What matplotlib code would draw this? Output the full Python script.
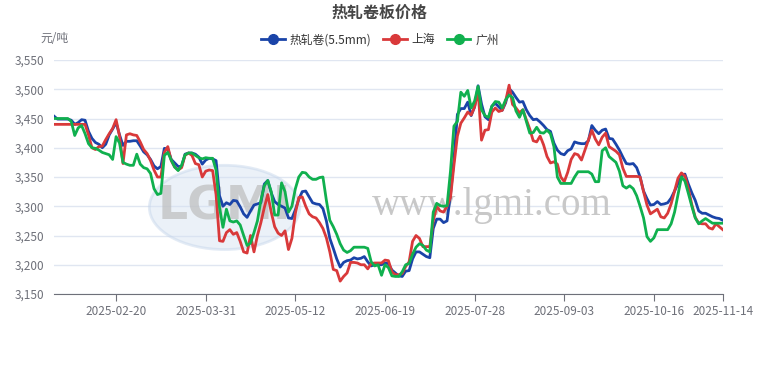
import numpy as np
import matplotlib.pyplot as plt
from matplotlib.lines import Line2D
from matplotlib.patches import Ellipse
from matplotlib.ticker import FuncFormatter

plt.rcParams['font.family'] = ['Noto Sans CJK SC', 'DejaVu Sans']

# 数据 (元/吨), 按交易日顺序
rezhajuan = [
    3454, 3449, 3449, 3449, 3449, 3447, 3440, 3443, 3448, 3447,
    3428, 3416, 3409, 3406, 3400, 3406, 3422, 3432, 3443, 3422,
    3404, 3411, 3411, 3412, 3412, 3403, 3393, 3388, 3380, 3369,
    3364, 3368, 3399, 3398, 3380, 3374, 3368, 3368, 3389, 3391,
    3391, 3389, 3384, 3372, 3379, 3382, 3381, 3378, 3318, 3300,
    3306, 3303, 3310, 3309, 3299, 3287, 3281, 3292, 3302, 3304,
    3306, 3338, 3344, 3323, 3308, 3303, 3300, 3297, 3280, 3279,
    3294, 3312, 3325, 3326, 3316, 3306, 3304, 3303, 3296, 3275,
    3245, 3228, 3210, 3196, 3204, 3207, 3208, 3212, 3210, 3211,
    3214, 3205, 3198, 3200, 3200, 3200, 3203, 3202, 3191, 3186,
    3181, 3180, 3189, 3190, 3210, 3222, 3222, 3218, 3214, 3212,
    3262, 3278, 3278, 3272, 3275, 3320, 3380, 3457, 3467, 3467,
    3478, 3455, 3470, 3506, 3475, 3453, 3448, 3471, 3476, 3470,
    3464, 3477, 3501, 3495, 3486, 3478, 3479, 3465, 3455, 3448,
    3449, 3444, 3438, 3431, 3428, 3408, 3396, 3390, 3388, 3395,
    3398, 3410, 3408, 3407, 3407, 3412, 3438, 3430, 3424, 3430,
    3432, 3416, 3415, 3406, 3396, 3384, 3373, 3372, 3373, 3366,
    3350, 3326, 3313, 3302, 3303, 3308, 3303, 3304, 3306, 3314,
    3326, 3339, 3351, 3355, 3338, 3323, 3310, 3292, 3288, 3288,
    3285, 3282, 3280, 3279, 3276,
]

shanghai = [
    3440, 3440, 3440, 3440, 3440, 3440, 3440, 3440, 3440, 3440,
    3422, 3400, 3397, 3402, 3403, 3414, 3424, 3433, 3448, 3420,
    3373, 3422, 3424, 3422, 3421, 3410, 3397, 3390, 3378, 3362,
    3350, 3350, 3392, 3402, 3378, 3367, 3362, 3366, 3387, 3391,
    3387, 3373, 3371, 3350, 3360, 3362, 3361, 3320, 3241, 3240,
    3255, 3260, 3252, 3255, 3240, 3222, 3220, 3250, 3222, 3250,
    3272, 3298, 3320, 3290, 3265, 3254, 3250, 3258, 3226, 3245,
    3288, 3315, 3316, 3300, 3287, 3282, 3280, 3272, 3262, 3246,
    3222, 3192, 3190, 3172, 3180, 3186, 3204, 3204, 3203, 3200,
    3200, 3193, 3202, 3203, 3203, 3203, 3208, 3207, 3188, 3183,
    3183, 3185, 3197, 3205, 3240, 3250, 3245, 3231, 3231, 3231,
    3275, 3300, 3292, 3290, 3300, 3315, 3370, 3420, 3442, 3451,
    3461, 3456, 3470, 3498, 3413, 3430, 3431, 3461, 3468, 3462,
    3464, 3480, 3507, 3474, 3468, 3460, 3465, 3448, 3432, 3412,
    3410, 3420, 3405, 3385, 3374, 3376, 3372, 3350, 3342, 3358,
    3380, 3390, 3388, 3379, 3396, 3413, 3430, 3415, 3405, 3418,
    3425, 3402, 3398, 3394, 3388, 3365, 3351, 3351, 3351, 3351,
    3350, 3325, 3302, 3287, 3291, 3295, 3282, 3280, 3288, 3304,
    3326, 3348, 3357, 3352, 3330, 3303, 3281, 3271, 3270, 3270,
    3263, 3261, 3270, 3265, 3260,
]

guangzhou = [
    3450, 3450, 3450, 3450, 3450, 3445, 3421, 3434, 3438, 3424,
    3407, 3400, 3399, 3396, 3392, 3390, 3388, 3380, 3419, 3408,
    3375, 3372, 3370, 3370, 3389, 3372, 3366, 3364, 3356, 3330,
    3320, 3322, 3387, 3392, 3379, 3367, 3361, 3370, 3388, 3391,
    3391, 3387, 3383, 3381, 3383, 3382, 3382, 3362, 3298, 3264,
    3295, 3275, 3273, 3275, 3268, 3250, 3233, 3237, 3255, 3275,
    3310, 3335, 3344, 3325, 3285, 3285, 3340, 3325, 3290, 3300,
    3330, 3350, 3358, 3357, 3350, 3346, 3346, 3349, 3350, 3310,
    3276, 3265, 3252, 3236, 3225, 3221, 3224, 3230, 3230, 3230,
    3230, 3228, 3205, 3198, 3200, 3182, 3200, 3195, 3181, 3180,
    3180, 3188, 3200, 3202, 3218, 3230, 3236, 3233, 3225, 3222,
    3290, 3305, 3301, 3300, 3301, 3360, 3437, 3445, 3495, 3488,
    3498, 3468, 3480, 3505, 3465, 3455, 3452, 3471, 3479, 3478,
    3468, 3482, 3490, 3486, 3463, 3452, 3465, 3445, 3425, 3426,
    3435, 3426, 3425, 3430, 3424, 3402, 3350, 3339, 3339, 3339,
    3339, 3350, 3359, 3359, 3359, 3359, 3355, 3342, 3342, 3395,
    3400, 3385, 3380, 3375, 3360, 3335, 3331, 3335, 3330, 3318,
    3300, 3280, 3248, 3240, 3246, 3260, 3260, 3260, 3260, 3270,
    3290, 3320, 3350, 3343, 3322, 3300, 3280, 3270, 3275, 3279,
    3275, 3271, 3271, 3271, 3271,
]

tick_idx = [18, 44, 70, 96, 122, 148, 174, 194]
tick_labels = ['2025-02-20', '2025-03-31', '2025-05-12', '2025-06-19',
               '2025-07-28', '2025-09-03', '2025-10-16', '2025-11-14']

series_names = ['热轧卷(5.5mm)', '上海', '广州']
colors = ['#1a44a8', '#d9393a', '#10b04e']

fig = plt.figure(figsize=(7.6, 3.7), dpi=100)
ax = fig.add_axes([0.0711, 0.2054, 0.88, 0.6324])

x = np.arange(len(rezhajuan))
for vals, c in zip([rezhajuan, shanghai, guangzhou], colors):
    ax.plot(x, vals, color=c, lw=2, solid_joinstyle='round', zorder=3)

# 水印
ax.add_patch(Ellipse((0.255, 0.37), 0.225, 0.36, transform=ax.transAxes,
                     facecolor='#d3e0f1', edgecolor='#c3d4ea', lw=2, alpha=0.45, zorder=1))
ax.text(0.255, 0.37, 'LGMI', transform=ax.transAxes, ha='center', va='center',
        fontsize=34, fontweight='bold', color='#bdbdbd', alpha=0.7,
        family='DejaVu Sans', zorder=2)
ax.text(0.655, 0.38, 'www.lgmi.com', transform=ax.transAxes, ha='center', va='center',
        fontsize=28, color='#c8c8c8', family='Liberation Serif', zorder=2)

ax.set_xlim(0, len(rezhajuan) - 1)
ax.set_ylim(3150, 3550)
ax.set_yticks(np.arange(3150, 3551, 50))
ax.yaxis.set_major_formatter(FuncFormatter(lambda v, p: f'{int(v):,}'))
ax.grid(axis='y', color='#e0e6f1', lw=1, zorder=0)
ax.set_axisbelow(True)

ax.set_xticks(tick_idx)
ax.set_xticklabels(tick_labels)

for s in ['top', 'right', 'left']:
    ax.spines[s].set_visible(False)
ax.spines['bottom'].set_color('#6e7079')
ax.tick_params(axis='x', length=5, color='#6e7079', labelcolor='#6e7079',
               labelsize=8.5, pad=3)
ax.tick_params(axis='y', length=0, labelcolor='#6e7079', labelsize=8.5, pad=7)

fig.text(0.5, 0.965, '热轧卷板价格', ha='center', va='center',
         fontsize=11.5, fontweight='bold', color='#464646')
fig.text(0.053, 0.897, '元/吨', ha='left', va='center', fontsize=8.5, color='#6e7079')

handles = [Line2D([0], [0], color=c, lw=2, marker='o', markersize=7) for c in colors]
fig.legend(handles, series_names, loc='center', bbox_to_anchor=(0.5, 0.892),
           ncol=3, frameon=False, fontsize=8.5, handlelength=2.0,
           handletextpad=0.4, columnspacing=1.0, labelcolor='#333333')

fig.savefig('out.png', dpi=100)
